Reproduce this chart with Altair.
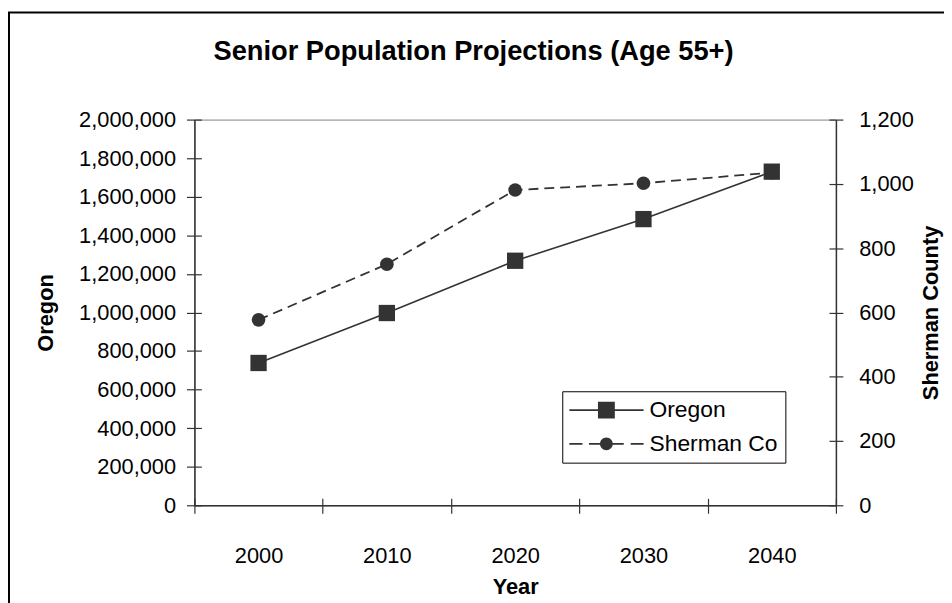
import altair as alt
import pandas as pd

# ---- data ----
years = ["2000", "2010", "2020", "2030", "2040"]
oregon = [738000, 997000, 1268000, 1484000, 1730000]
sherman = [577, 750, 981, 1002, 1035]
series_names = ["Oregon", "Sherman Co"]
left_ticks = [0, 200000, 400000, 600000, 800000, 1000000, 1200000, 1400000, 1600000, 1800000, 2000000]
right_ticks = [0, 200, 400, 600, 800, 1000, 1200]

FONT = "Liberation Sans"
DARK = "#333333"
W, H = 647, 389
FS = 22

df_or = pd.DataFrame({"year": years, "value": oregon, "series": "Oregon"})
df_sh = pd.DataFrame({"year": years, "value": sherman, "series": "Sherman Co"})
df_leg = pd.DataFrame({"series": series_names})
df_frame = pd.DataFrame({"k": [0]})

xscale = alt.Scale(type="band", domain=years, paddingInner=0, paddingOuter=0)
yl_scale = alt.Scale(domain=[0, 2000000], nice=False)
yr_scale = alt.Scale(domain=[0, 1200], nice=False)

# legend symbols (line + marker) as custom paths in a [-1,1] box
path_or = "M-1,-0.022H1V0.022H-1Z M-0.227,-0.227H0.227V0.227H-0.227Z"
path_sh = ("M-1,-0.022H-0.645V0.022H-1Z M-0.467,-0.022H-0.17V0.022H-0.467Z "
           "M0.17,-0.022H0.467V0.022H0.17Z M0.653,-0.022H1V0.022H0.653Z "
           "M-0.173,0A0.173,0.173 0 1,1 0.173,0A0.173,0.173 0 1,1 -0.173,0Z")

x_main_axis = alt.Axis(
    title="Year", orient="bottom", tickBand="extent", tickSize=8, tickColor=DARK,
    tickWidth=1.2, domainColor=DARK, domainWidth=1.5, labelFontSize=FS,
    labelPadding=33, labelAngle=0, labelColor="black", titleFontSize=FS,
    titleFontWeight="bold", titleY=89, titleBaseline="alphabetic", titleColor="black",
    grid=False,
)
x_inner_axis = alt.Axis(
    title="", orient="bottom", tickBand="extent", offset=-7, tickSize=7,
    tickColor=DARK, tickWidth=1.2, domain=False, labels=False, grid=False,
)

frame = alt.Chart(df_frame).mark_rect(fillOpacity=0, stroke="#000000", strokeWidth=2).encode(
    x=alt.value(-187), x2=alt.value(W + 300), y=alt.value(-108), y2=alt.value(H + 300)
)

oregon_layer = alt.Chart(df_or).mark_line(
    color=DARK, strokeWidth=1.6,
    point=alt.OverlayMarkDef(shape="square", size=270, filled=True, color=DARK, opacity=1),
).encode(
    x=alt.X("year:O", scale=xscale, bandPosition=0.5, axis=x_main_axis),
    y=alt.Y("value:Q", scale=yl_scale, axis=alt.Axis(
        orient="left", values=left_ticks, format=",d", tickSize=8, tickColor=DARK,
        tickWidth=1.2, domainColor=DARK, domainWidth=1.5, labelFontSize=FS,
        labelPadding=11, labelColor="black", title="Oregon", titleFontSize=FS,
        titleFontWeight="bold", titleX=-143, titleY=H / 2, titleAngle=270,
        titleBaseline="alphabetic", titleColor="black", grid=False,
    )),
)

sherman_layer = alt.Chart(df_sh).mark_line(
    color=DARK, strokeWidth=1.8, strokeDash=[10, 6],
    point=alt.OverlayMarkDef(shape="circle", size=190, filled=True, color=DARK, opacity=1),
).encode(
    x=alt.X("year:O", scale=xscale, bandPosition=0.5, axis=None),
    y=alt.Y("value:Q", scale=yr_scale, axis=alt.Axis(
        orient="right", values=right_ticks, format=",d", tickSize=7, tickColor=DARK,
        tickWidth=1.2, domainColor=DARK, domainWidth=1.5, labelFontSize=FS,
        labelPadding=16, labelColor="black", title="Sherman County", titleFontSize=FS,
        titleFontWeight="bold", titleX=102, titleY=H / 2, titleAngle=270,
        titleBaseline="alphabetic", titleColor="black", grid=False,
    )),
)

inner_left = alt.Chart(df_or).mark_point(opacity=0).encode(
    x=alt.X("year:O", scale=xscale, bandPosition=0.5, axis=x_inner_axis),
    y=alt.Y("value:Q", scale=yl_scale, axis=alt.Axis(
        orient="left", values=left_ticks, offset=-7, tickSize=7, tickColor=DARK,
        tickWidth=1.2, domain=False, labels=False, title="", grid=False,
    )),
)

inner_right = alt.Chart(df_sh).mark_point(opacity=0).encode(
    x=alt.X("year:O", scale=xscale, bandPosition=0.5, axis=None),
    y=alt.Y("value:Q", scale=yr_scale, axis=alt.Axis(
        orient="right", values=right_ticks, offset=-7, tickSize=7, tickColor=DARK,
        tickWidth=1.2, domain=False, labels=False, title="", grid=False,
    )),
)

legend_layer = alt.Chart(df_leg).transform_filter("false").mark_point(
    filled=True, color=DARK, opacity=1
).encode(
    shape=alt.Shape("series:N", scale=alt.Scale(domain=series_names, range=[path_or, path_sh]),
                    legend=alt.Legend(
                        title=None, orient="none", legendX=371, legendY=274, padding=7,
                        strokeColor="#000000", fillColor="#ffffff", symbolSize=5625,
                        clipHeight=24, rowPadding=10, labelFontSize=23, labelOffset=6,
                        labelColor="black", labelFont=FONT, symbolFillColor=DARK,
                        symbolStrokeWidth=0, symbolOpacity=1,
                    )),
)

chart = alt.layer(
    frame, oregon_layer, sherman_layer, inner_left, inner_right, legend_layer
).resolve_scale(
    y="independent", x="shared"
).resolve_axis(
    x="independent", y="independent"
).properties(
    width=W, height=H,
    autosize=alt.AutoSizeParams(type="none"),
    padding={"left": 188, "top": 110, "right": 109, "bottom": 96},
    title=alt.TitleParams(
        text="Senior Population Projections (Age 55+)", fontSize=27.5, fontWeight="bold",
        font=FONT, color="black", anchor="middle", frame="group", dx=-42, offset=-54,
    ),
).configure(
    font=FONT, background="white"
).configure_view(
    fill="#C0C0C0", stroke="#808080", strokeWidth=1
).configure_axis(
    labelFont=FONT, titleFont=FONT
)

chart.save("out.html", embed_options={"renderer": "svg", "actions": False})
